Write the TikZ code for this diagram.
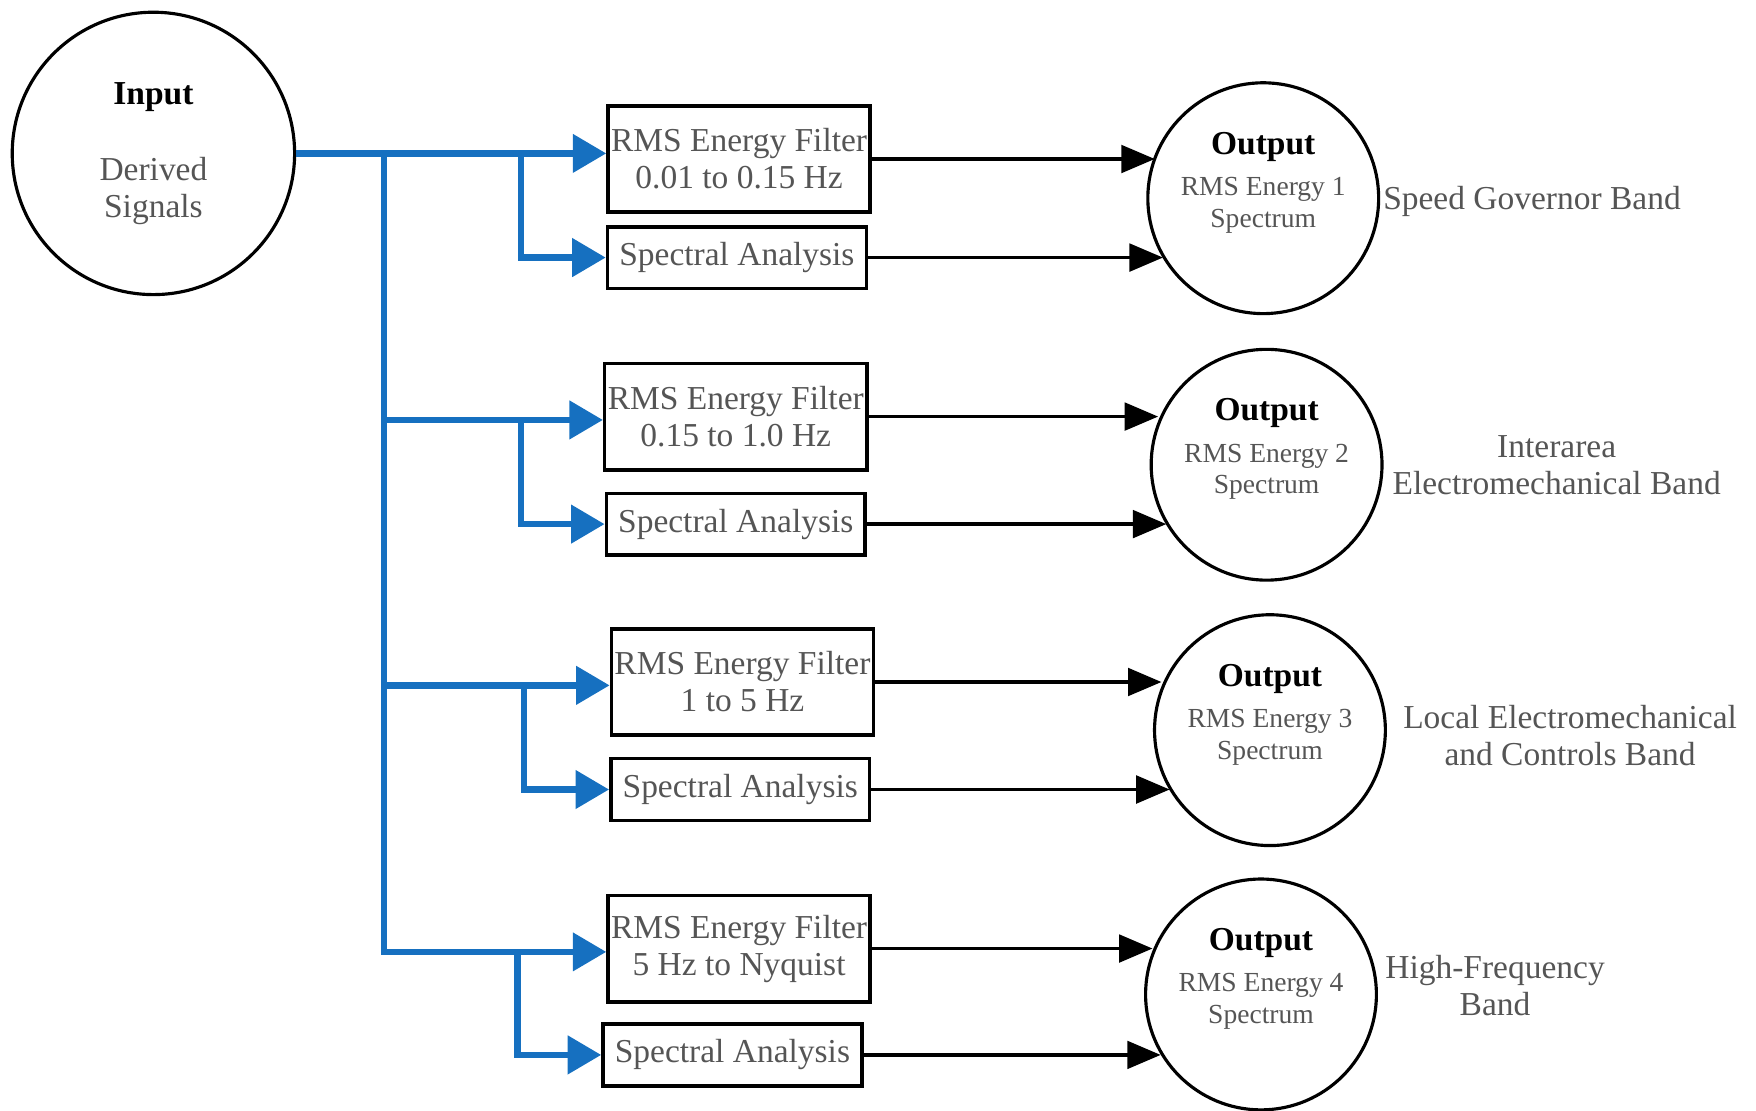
\documentclass[tikz,border=0pt]{standalone}
\usepackage{fontspec}
\setmainfont{Liberation Serif}
\usetikzlibrary{arrows.meta}
\definecolor{feedblue}{RGB}{22,112,192}
\definecolor{txtgray}{RGB}{85,85,85}

\begin{document}
\begin{tikzpicture}[
    x=0.01cm, y=-0.01cm,
    filterbox/.style={rectangle, draw, line width=0.9pt, minimum width=2.34cm, minimum height=0.95cm, inner sep=0pt, align=center, text=txtgray, font=\fontsize{8.5}{9.4}\selectfont},
    specbox/.style={filterbox, minimum width=2.31cm, minimum height=0.55cm},
    incircle/.style={circle, draw, line width=0.8pt, minimum size=2.52cm, align=center, text=txtgray, font=\fontsize{8.5}{9.4}\selectfont},
    outcircle/.style={circle, draw, line width=0.8pt, minimum size=2.06cm},
    outtext/.style={align=center, text=txtgray, font=\fontsize{7}{8}\selectfont},
    bandtext/.style={align=center, text=txtgray, font=\fontsize{8.5}{9.4}\selectfont},
    feed/.style={draw=feedblue, line width=1.6pt, -{Triangle[length=8.5pt, width=9.5pt]}},
    link/.style={draw, line width=0.9pt, -{Triangle[length=8.5pt, width=7pt]}}
]
\useasboundingbox (0,0) rectangle (1568,992);

% Input
\node[incircle] (in) at (137,137) {{\color{black}\bfseries Input}\\[10pt]Derived\\Signals};

% Filters and spectral analysis
\node[filterbox] (f1) at (660,142) {RMS Energy Filter\\0.01 to 0.15 Hz};
\node[specbox] (s1) at (658,230) {Spectral Analysis};
\node[filterbox] (f2) at (657,372) {RMS Energy Filter\\0.15 to 1.0 Hz};
\node[specbox] (s2) at (657,468) {Spectral Analysis};
\node[filterbox] (f3) at (663,609) {RMS Energy Filter\\1 to 5 Hz};
\node[specbox] (s3) at (661,705) {Spectral Analysis};
\node[filterbox] (f4) at (660,847) {RMS Energy Filter\\5 Hz to Nyquist};
\node[specbox] (s4) at (654,942) {Spectral Analysis};

% Outputs
\node[outcircle] (o1) at (1128,177) {};
\node[outtext] (o1t) at (1128,163) {{\color{black}\bfseries\fontsize{8.5}{9.4}\selectfont Output}\\[2.5pt]RMS Energy 1\\Spectrum};
\node[outcircle] (o2) at (1131,415) {};
\node[outtext] (o2t) at (1131,401) {{\color{black}\bfseries\fontsize{8.5}{9.4}\selectfont Output}\\[2.5pt]RMS Energy 2\\Spectrum};
\node[outcircle] (o3) at (1134,652) {};
\node[outtext] (o3t) at (1134,638) {{\color{black}\bfseries\fontsize{8.5}{9.4}\selectfont Output}\\[2.5pt]RMS Energy 3\\Spectrum};
\node[outcircle] (o4) at (1126,888) {};
\node[outtext] (o4t) at (1126,874) {{\color{black}\bfseries\fontsize{8.5}{9.4}\selectfont Output}\\[2.5pt]RMS Energy 4\\Spectrum};

% Bands
\node[bandtext] (b1) at (1368,180) {Speed Governor Band};
\node[bandtext] (b2) at (1390,415) {Interarea\\Electromechanical Band};
\node[bandtext] (b3) at (1402,657) {Local Electromechanical\\and Controls Band};
\node[bandtext] (b4) at (1335,880) {High-Frequency\\Band};

% Junctions
\coordinate (j1) at (343,137);
\coordinate (j2) at (343,375);
\coordinate (j3) at (343,612);
\coordinate (j4) at (343,850);
\coordinate (k1) at (465,137);
\coordinate (k2) at (465,375);
\coordinate (k3) at (468,612);
\coordinate (k4) at (462,850);

% Connections
\draw[feed] (in.east) -- (in.east -| f1.west);
\draw[feedblue, line width=1.6pt, line cap=rect] (j1) -- (j4);
\foreach \i in {2,3,4}
    \draw[feed] (j\i) -- (j\i -| f\i.west);
\foreach \i in {1,...,4}
    \draw[feed] (k\i) |- (s\i.west);

\foreach \i in {1,...,4} {
    \draw[link] (f\i.east) -- (f\i.east -| o\i.158);
    \draw[link] (s\i.east) -- (s\i.east -| o\i.211);
}

\end{tikzpicture}
\end{document}
